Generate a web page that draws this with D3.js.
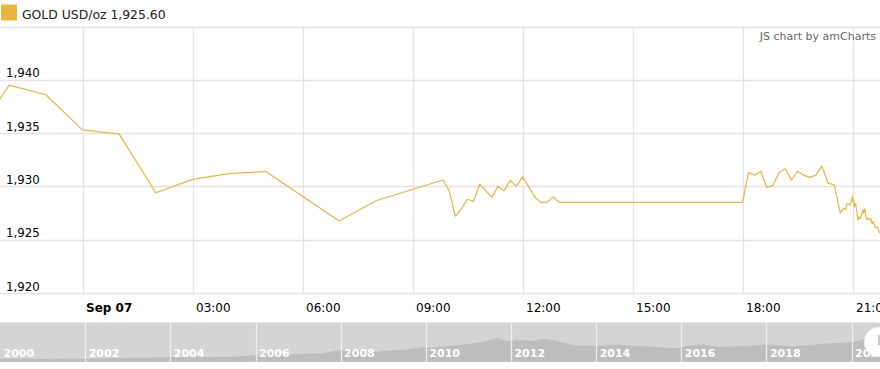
<!DOCTYPE html>
<html><head><meta charset="utf-8">
<script src="https://cdn.jsdelivr.net/npm/d3@7"></script>
<style>
html,body{margin:0;padding:0;background:#fff;}
svg{display:block;font-family:"DejaVu Sans",Verdana,sans-serif;}
</style></head>
<body><svg id="c" width="880" height="369"></svg>
<script>
// ---- data ----
const seriesName = "GOLD USD/oz";
const lastValue = "1,925.60";
const credit = "JS chart by amCharts";
const times = [
 "2020-09-06T21:00","2020-09-06T22:00","2020-09-06T23:00","2020-09-07T00:00","2020-09-07T01:00",
 "2020-09-07T02:00","2020-09-07T03:00","2020-09-07T04:00","2020-09-07T05:00","2020-09-07T07:00",
 "2020-09-07T08:00","2020-09-07T09:50","2020-09-07T10:00","2020-09-07T10:10","2020-09-07T10:20",
 "2020-09-07T10:30","2020-09-07T10:40","2020-09-07T10:50","2020-09-07T11:00","2020-09-07T11:10",
 "2020-09-07T11:20","2020-09-07T11:30","2020-09-07T11:40","2020-09-07T11:50","2020-09-07T12:00",
 "2020-09-07T12:10","2020-09-07T12:20","2020-09-07T12:30","2020-09-07T12:40","2020-09-07T12:50",
 "2020-09-07T13:00","2020-09-07T18:00","2020-09-07T18:10","2020-09-07T18:20","2020-09-07T18:30",
 "2020-09-07T18:40","2020-09-07T18:50","2020-09-07T19:00","2020-09-07T19:10","2020-09-07T19:20",
 "2020-09-07T19:30","2020-09-07T19:40","2020-09-07T19:50","2020-09-07T20:00","2020-09-07T20:10",
 "2020-09-07T20:20","2020-09-07T20:30","2020-09-07T20:40","2020-09-07T20:42","2020-09-07T20:46",
 "2020-09-07T20:49","2020-09-07T20:50","2020-09-07T20:53","2020-09-07T20:56","2020-09-07T20:58",
 "2020-09-07T21:00","2020-09-07T21:01","2020-09-07T21:02","2020-09-07T21:03","2020-09-07T21:05",
 "2020-09-07T21:07","2020-09-07T21:09","2020-09-07T21:11","2020-09-07T21:13","2020-09-07T21:15",
 "2020-09-07T21:17","2020-09-07T21:18","2020-09-07T21:20","2020-09-07T21:22","2020-09-07T21:23",
 "2020-09-07T21:25","2020-09-07T21:28","2020-09-07T21:30","2020-09-07T21:32","2020-09-07T21:34",
 "2020-09-07T21:36","2020-09-07T21:38","2020-09-07T21:41","2020-09-07T21:43","2020-09-07T21:45"
];
const prices = [
 1934.4,1939.5,1938.6,1935.3,1934.9,
 1929.4,1930.66,1931.2,1931.4,1926.75,
 1928.65,1930.6,1929.6,1927.2,1927.9,
 1928.8,1928.6,1930.2,1929.6,1929.0,
 1930.0,1929.6,1930.56,1930.0,1930.9,
 1930.0,1929.0,1928.5,1928.5,1929.0,
 1928.5,1928.5,1931.3,1931.06,1931.4,
 1929.9,1930.1,1931.3,1931.65,1930.6,
 1931.4,1931.06,1930.85,1931.06,1931.9,
 1930.3,1930.15,1927.5,1927.7,1927.95,
 1927.8,1928.3,1928.4,1928.25,1928.55,
 1929.1,1928.55,1928.7,1928.1,1928.4,
 1927.6,1926.85,1927.15,1927.0,1927.47,
 1927.8,1927.5,1927.9,1927.15,1926.85,
 1927.05,1926.85,1927.0,1926.5,1926.7,
 1926.3,1926.1,1926.2,1925.8,1925.6
];
const yTicks = [1920,1925,1930,1935,1940,1945];
const xDomain = ["2020-09-06T21:45","2020-09-07T21:45"];
const xTickLabels = ["Sep 07","03:00","06:00","09:00","12:00","15:00","18:00","21:00"];
// scrollbar history (approx. gold price, USD/oz)
const histDates = ["2000-01","2000-07","2001-01","2001-07","2002-01","2002-07","2003-01","2003-07",
 "2004-01","2004-07","2005-01","2005-07","2006-01","2006-05","2006-10","2007-01","2007-07","2008-01",
 "2008-03","2008-07","2008-10","2009-01","2009-07","2009-12","2010-03","2010-07","2011-01","2011-05",
 "2011-09","2011-12","2012-04","2012-07","2012-10","2013-01","2013-04","2013-07","2014-01","2014-07",
 "2015-01","2015-07","2015-12","2016-03","2016-07","2016-12","2017-07","2018-01","2018-08","2019-01",
 "2019-07","2019-12","2020-03","2020-07","2020-08","2020-09"];
const histPrices = [285,285,265,268,280,315,350,350,410,395,425,430,550,700,590,640,665,900,
 970,930,760,860,940,1120,1110,1200,1360,1500,1820,1600,1650,1600,1750,1670,1450,1250,1240,1320,
 1220,1130,1060,1250,1340,1150,1230,1330,1200,1290,1420,1480,1600,1970,1960,1930];
const yearTicks = [2000,2002,2004,2006,2008,2010,2012,2014,2016,2018,2020];

// ---- drawing ----
const W = 880;
const svg = d3.select("#c");
const plot = {top:26.5, bottom:293};
const x = d3.scaleTime().domain(xDomain.map(d=>new Date(d))).range([0, W]);
const y = d3.scaleLinear().domain([1920,1945]).range([plot.bottom, plot.top]);
const gold = "#e8b53e";

// legend
svg.append("rect").attr("x",1).attr("y",4.5).attr("width",16).attr("height",16)
  .attr("fill", gold);
svg.append("text").attr("x",22).attr("y",19).attr("font-size",12.4).attr("fill","#222")
  .text(seriesName + " " + lastValue);

// grid
const grid = svg.append("g");
grid.selectAll("line.h").data(yTicks).join("line")
  .attr("x1",0).attr("x2",W)
  .attr("y1",d=>Math.round(y(d))+0.5).attr("y2",d=>Math.round(y(d))+0.5)
  .attr("stroke","#e3e3e3").attr("stroke-width",1.3);
const xTicks = d3.range(0,8).map(i=>new Date(2020,8,7,i*3));
grid.selectAll("line.v").data(xTicks).join("line")
  .attr("x1",d=>Math.round(x(d))+0.5).attr("x2",d=>Math.round(x(d))+0.5)
  .attr("y1",plot.top).attr("y2",plot.bottom)
  .attr("stroke","#e3e3e3").attr("stroke-width",1.3);

// y labels
svg.append("g").selectAll("text").data(yTicks.filter(d=>d<1945)).join("text")
  .attr("x",6).attr("y",d=>y(d)-2.5).attr("font-size",11.8).attr("fill","#000")
  .text(d=>d3.format(",")(d));

// x labels
svg.append("g").selectAll("text").data(xTicks).join("text")
  .attr("x",d=>x(d)+3.5).attr("y",312).attr("font-size",12).attr("fill","#000")
  .attr("font-weight",(d,i)=>i===0?"bold":"normal")
  .text((d,i)=>xTickLabels[i]);

// credit
svg.append("text").attr("x",876).attr("y",40).attr("text-anchor","end")
  .attr("font-size",11).attr("fill","#666").text(credit);

// line
svg.append("clipPath").attr("id","pc").append("rect")
  .attr("x",0).attr("y",plot.top).attr("width",W).attr("height",plot.bottom-plot.top);
const pts = times.map((t,i)=>({t:new Date(t), v:prices[i]}));
svg.append("path").datum(pts).attr("clip-path","url(#pc)")
  .attr("fill","none").attr("stroke",gold).attr("stroke-width",1.2)
  .attr("stroke-linejoin","round")
  .attr("d", d3.line().x(d=>x(d.t)).y(d=>y(d.v)));

// scrollbar
const sb = {top:322.5, bottom:361.8};
const xs = d3.scaleTime().domain([new Date(2000,0,1), new Date(2020,8,1)]).range([0,W]);
const ys = d3.scaleLinear().domain([50,1850]).range([sb.bottom, 337.5]);
svg.append("rect").attr("x",0).attr("y",sb.top).attr("width",W).attr("height",sb.bottom-sb.top)
  .attr("fill","#d4d4d4");
const hist = histDates.map((d,i)=>({t:new Date(d+"-01T00:00"), v:histPrices[i]}));
svg.append("path").datum(hist).attr("fill","#bdbdbd")
  .attr("d", d3.area().x(d=>xs(d.t)).y0(sb.bottom).y1(d=>ys(d.v)));
const ysep = svg.append("g");
ysep.selectAll("line").data(yearTicks.slice(1)).join("line")
  .attr("x1",d=>Math.round(xs(new Date(d,0,1)))+0.5).attr("x2",d=>Math.round(xs(new Date(d,0,1)))+0.5)
  .attr("y1",sb.top).attr("y2",sb.bottom).attr("stroke","#eeeeee").attr("stroke-width",1.3);
ysep.selectAll("text").data(yearTicks).join("text")
  .attr("x",d=>xs(new Date(d,0,1))+3.5).attr("y",356.5).attr("font-size",11)
  .attr("font-weight","bold").attr("fill","#fff").text(d=>d);
// handle
svg.append("circle").attr("cx",879).attr("cy",342).attr("r",15)
  .attr("fill","#fff").attr("stroke","#e0e0e0").attr("stroke-width",0.6);
svg.append("rect").attr("x",878).attr("y",335).attr("width",4).attr("height",10)
  .attr("fill","#c8c8c8");
</script></body></html>
